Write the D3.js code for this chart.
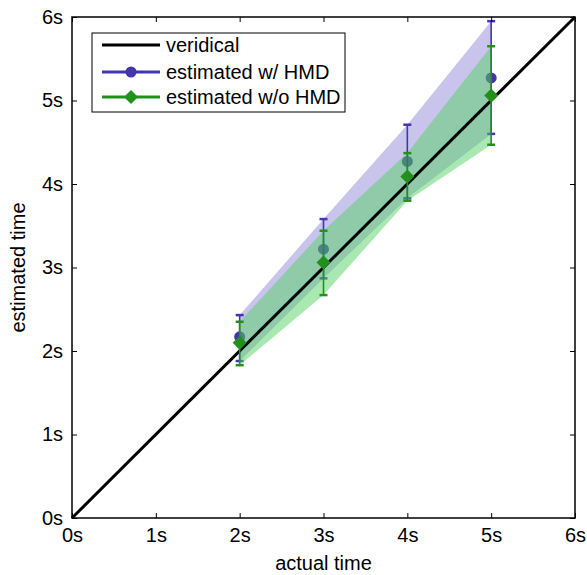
<!DOCTYPE html>
<html><head><meta charset="utf-8">
<script src="https://cdn.jsdelivr.net/npm/d3@7"></script>
<style>body{margin:0;background:#fff}svg{display:block}text{font-family:"Liberation Sans",Arial,sans-serif;fill:#000}</style>
</head><body>
<script>
const actual = [2, 3, 4, 5];
const hmdMean = [2.17, 3.22, 4.27, 5.27];
const hmdLow = [1.88, 2.87, 3.83, 4.60];
const hmdHigh = [2.43, 3.58, 4.71, 5.95];
const noHmdMean = [2.10, 3.06, 4.09, 5.06];
const noHmdLow = [1.83, 2.67, 3.80, 4.47];
const noHmdHigh = [2.35, 3.44, 4.37, 5.65];
const ticks = [0, 1, 2, 3, 4, 5, 6];
const tickLabels = ["0s", "1s", "2s", "3s", "4s", "5s", "6s"];
const legendLabels = ["veridical", "estimated w/ HMD", "estimated w/o HMD"];

const W = 587, H = 575;
const svg = d3.select("body").append("svg").attr("width", W).attr("height", H);
const x = d3.scaleLinear().domain([0, 6]).range([72, 575]);
const y = d3.scaleLinear().domain([0, 6]).range([518, 17]);
const blue = "#4335ad", green = "#23901c";

const area = (lo, hi) => d3.area().x((d, i) => x(actual[i])).y0((d, i) => y(lo[i])).y1((d, i) => y(hi[i]))(actual);

const g = svg.append("g");
function errbars(mean, lo, hi, color) {
  const eg = g.append("g");
  actual.forEach((a, i) => {
    eg.append("line").attr("x1", x(a)).attr("x2", x(a)).attr("y1", y(lo[i])).attr("y2", y(hi[i])).attr("stroke", color).attr("stroke-width", 1.6);
    [lo[i], hi[i]].forEach(v => eg.append("line").attr("x1", x(a) - 4).attr("x2", x(a) + 4).attr("y1", y(v)).attr("y2", y(v)).attr("stroke", color).attr("stroke-width", 2.5));
  });
  return eg;
}
function marker(sel, cx, cy, color, shape) {
  if (shape === "circle") sel.append("circle").attr("cx", cx).attr("cy", cy).attr("r", 5.5).attr("fill", color);
  else sel.append("path").attr("d", `M${cx},${cy-7}L${cx+7},${cy}L${cx},${cy+7}L${cx-7},${cy}Z`).attr("fill", color);
}

g.append("path").attr("d", area(hmdLow, hmdHigh)).attr("fill", "rgb(118,107,207)").attr("fill-opacity", 0.4);
const be = errbars(hmdMean, hmdLow, hmdHigh, blue);
actual.forEach((a, i) => marker(be, x(a), y(hmdMean[i]), blue, "circle"));
g.append("path").attr("d", area(noHmdLow, noHmdHigh)).attr("fill", "rgb(85,209,101)").attr("fill-opacity", 0.5);
g.append("line").attr("x1", x(0)).attr("y1", y(0)).attr("x2", x(6)).attr("y2", y(6)).attr("stroke", "#000").attr("stroke-width", 3);
const ge = errbars(noHmdMean, noHmdLow, noHmdHigh, green);
actual.forEach((a, i) => marker(ge, x(a), y(noHmdMean[i]), green, "diamond"));

// axes box
svg.append("rect").attr("x", x(0)).attr("y", y(6)).attr("width", x(6) - x(0)).attr("height", y(0) - y(6)).attr("fill", "none").attr("stroke", "#000").attr("stroke-width", 1.5);
const fs = 20;
svg.append("g").attr("transform", `translate(0,${y(0)})`).call(d3.axisBottom(x).tickValues(ticks).tickFormat((d, i) => tickLabels[i]).tickSizeInner(-5).tickSizeOuter(0).tickPadding(10))
  .call(s => { s.select(".domain").remove(); s.selectAll("text").attr("font-size", fs).style("font-family", "Liberation Sans, Arial"); });
svg.append("g").attr("transform", `translate(0,${y(6)})`).call(d3.axisTop(x).tickValues(ticks).tickFormat("").tickSizeInner(-5).tickSizeOuter(0))
  .call(s => s.select(".domain").remove());
svg.append("g").attr("transform", `translate(${x(0)},0)`).call(d3.axisLeft(y).tickValues(ticks).tickFormat((d, i) => tickLabels[i]).tickSizeInner(-5).tickSizeOuter(0).tickPadding(9))
  .call(s => { s.select(".domain").remove(); s.selectAll("text").attr("font-size", fs).style("font-family", "Liberation Sans, Arial"); });
svg.append("g").attr("transform", `translate(${x(6)},0)`).call(d3.axisRight(y).tickValues(ticks).tickFormat("").tickSizeInner(-5).tickSizeOuter(0))
  .call(s => s.select(".domain").remove());

svg.append("text").attr("x", (x(0) + x(6)) / 2).attr("y", 570).attr("text-anchor", "middle").attr("font-size", fs).text("actual time");
svg.append("text").attr("transform", `translate(25,${(y(0) + y(6)) / 2}) rotate(-90)`).attr("text-anchor", "middle").attr("font-size", fs).text("estimated time");

// legend
const lg = svg.append("g");
lg.append("rect").attr("x", 92).attr("y", 33).attr("width", 253).attr("height", 79).attr("fill", "#fff").attr("stroke", "#000").attr("stroke-width", 1);
const rows = [45, 72, 97];
const colors = ["#000", blue, green];
rows.forEach((ry, i) => {
  lg.append("line").attr("x1", 102).attr("x2", 160).attr("y1", ry).attr("y2", ry).attr("stroke", colors[i]).attr("stroke-width", 3);
  if (i === 1) marker(lg, 131, ry, blue, "circle");
  if (i === 2) marker(lg, 131, ry, green, "diamond");
  lg.append("text").attr("x", 166).attr("y", ry).attr("dy", "0.35em").attr("font-size", fs).text(legendLabels[i]);
});
</script>
</body></html>
